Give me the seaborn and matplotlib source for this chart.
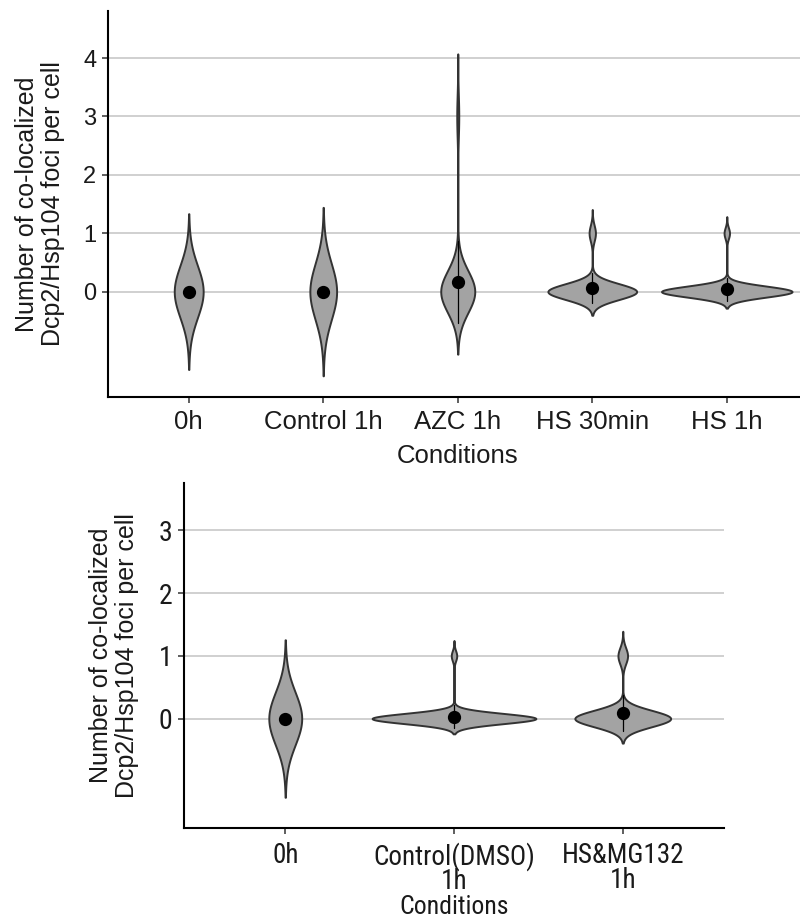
import numpy as np
import pandas as pd
import matplotlib
matplotlib.use("Agg")
import matplotlib.pyplot as plt
import seaborn as sns
from matplotlib import font_manager as fm

# ---------------- data ----------------
# number of cells showing 0, 1, 2 or 3 co-localized Dcp2/Hsp104 foci
foci_levels = [0, 1, 2, 3]

top_conditions = ["0h", "Control 1h", "AZC 1h", "HS 30min", "HS 1h"]
top_cells_0 = [34, 23, 17, 14, 24]
top_cells_1 = [0, 0, 0, 1, 1]
top_cells_2 = [0, 0, 0, 0, 0]
top_cells_3 = [0, 0, 1, 0, 0]
top_yticks = [0, 1, 2, 3, 4]

bottom_conditions = ["0h", "Control(DMSO)\n1h", "HS&MG132\n1h"]
bottom_cells_0 = [46, 30, 30]
bottom_cells_1 = [0, 1, 3]
bottom_cells_2 = [0, 0, 0]
bottom_cells_3 = [0, 0, 0]
bottom_yticks = [0, 1, 2, 3]

Y_LABEL = "Number of co-localized\nDcp2/Hsp104 foci per cell"
X_LABEL = "Conditions"

FILL = "#a3a3a3"
EDGE = "#333333"
GRID = "#cdcdcd"


def long_table(conditions, counts):
    rows = []
    for i, cond in enumerate(conditions):
        for level, cnt in zip(foci_levels, counts):
            rows += [(cond, level)] * cnt[i]
    return pd.DataFrame(rows, columns=["Conditions", "foci"])


def bw_nrd0(x):
    hi = x.std(ddof=1) if len(x) > 1 else 0.0
    q25, q75 = np.percentile(x, [25, 75])
    lo = min(hi, (q75 - q25) / 1.34)
    if lo == 0:
        lo = hi
    if lo == 0:
        lo = abs(x[0])
    if lo == 0:
        lo = 1.0
    return 0.9 * lo * len(x) ** -0.2


def violin_density(x, cut=3.0, n=512):
    bw = bw_nrd0(x)
    grid = np.linspace(x.min() - cut * bw, x.max() + cut * bw, n)
    z = (grid[:, None] - x[None, :]) / bw
    dens = np.exp(-0.5 * z ** 2).sum(1) / (len(x) * bw * np.sqrt(2 * np.pi))
    return grid, dens


def pick_font(cands):
    for c in cands:
        try:
            fm.findfont(fm.FontProperties(family=c), fallback_to_default=False)
            return c
        except ValueError:
            pass
    return None


sns.set_theme(style="white")
base_font = pick_font(["Liberation Sans", "Arial", "DejaVu Sans"]) or "DejaVu Sans"
narrow_font = pick_font(["Liberation Sans Narrow", "Arial Narrow", "Roboto Condensed",
                         "Open Sans Condensed", "Noto Sans Condensed"]) or base_font
plt.rcParams["font.family"] = [base_font, "DejaVu Sans"]

fig = plt.figure(figsize=(8.0, 9.21), dpi=100)
W, H = 800.0, 921.0
ax_top = fig.add_axes([108 / W, (H - 397.3) / H, (807.5 - 108) / W, (397.3 - 10.7) / H])
ax_bot = fig.add_axes([184 / W, (H - 828.3) / H, (724 - 184) / W, (828.3 - 482.7) / H])


def draw_panel(ax, df, conditions, yticks, ylim, font, ytick_fs, xtick_fs, xlab_fs,
               ylab_fs, xpad, xlab_y, xlab_va, ylab_x, tick_ls):
    sns.pointplot(data=df, x="Conditions", y="foci", order=conditions,
                  estimator="mean", errorbar="sd", color="black", markers="o",
                  markersize=7.5, linestyle="none", zorder=5,
                  err_kws={"linewidth": 0.9, "zorder": 5, "color": "black"}, ax=ax)
    curves = [violin_density(df.loc[df["Conditions"] == c, "foci"].to_numpy(float))
              for c in conditions]
    dmax = max(d.max() for _, d in curves)
    width = 0.97
    for pos, (grid, dens) in enumerate(curves):
        half = dens / dmax * width / 2
        ax.fill_betweenx(grid, pos - half, pos + half, facecolor=FILL,
                         edgecolor=EDGE, linewidth=1.4, zorder=2)
    ax.set_xlim(-0.6, len(conditions) - 1 + 0.6)
    ax.set_ylim(*ylim)
    ax.set_yticks(yticks)
    ax.set_yticklabels([str(t) for t in yticks], fontsize=ytick_fs, family=font,
                       color="#1a1a1a")
    ax.set_xticks(range(len(conditions)))
    ax.set_xticklabels(conditions, fontsize=xtick_fs, family=font, color="#1a1a1a",
                       linespacing=tick_ls)
    ax.yaxis.grid(True, color=GRID, linewidth=1.3)
    ax.xaxis.grid(False)
    ax.set_axisbelow(True)
    for s in ["top", "right"]:
        ax.spines[s].set_visible(False)
    for s in ["left", "bottom"]:
        ax.spines[s].set_color("black")
        ax.spines[s].set_linewidth(1.5)
    ax.tick_params(axis="both", which="major", direction="out", length=4.5,
                   width=1.1, color="#333333", left=True, bottom=True)
    ax.tick_params(axis="y", pad=4)
    ax.tick_params(axis="x", pad=xpad)
    ax.set_xlabel(X_LABEL, fontsize=xlab_fs, family=font, color="#1a1a1a")
    ax.xaxis.set_label_coords(0.5, xlab_y)
    ax.xaxis.label.set_va(xlab_va)
    ax.set_ylabel(Y_LABEL, fontsize=ylab_fs, color="#1a1a1a", linespacing=1.1)
    ax.yaxis.set_label_coords(ylab_x, 0.5)


df_top = long_table(top_conditions, [top_cells_0, top_cells_1, top_cells_2, top_cells_3])
df_bot = long_table(bottom_conditions, [bottom_cells_0, bottom_cells_1, bottom_cells_2, bottom_cells_3])

draw_panel(ax_top, df_top, top_conditions, top_yticks, (-1.81, 4.81), base_font,
           17, 18.5, 18.5, 18, 4.5, (397.3 - 444) / 386.6, "top", -43 / 699.5, 1.0)
draw_panel(ax_bot, df_bot, bottom_conditions, bottom_yticks, (-1.75, 3.76), narrow_font,
           20, 19.5, 18.5, 18, 5.5, (828.3 - 914) / 345.6, "baseline", -45 / 540, 0.88)

fig.savefig("out.png", dpi=100, facecolor="white")
